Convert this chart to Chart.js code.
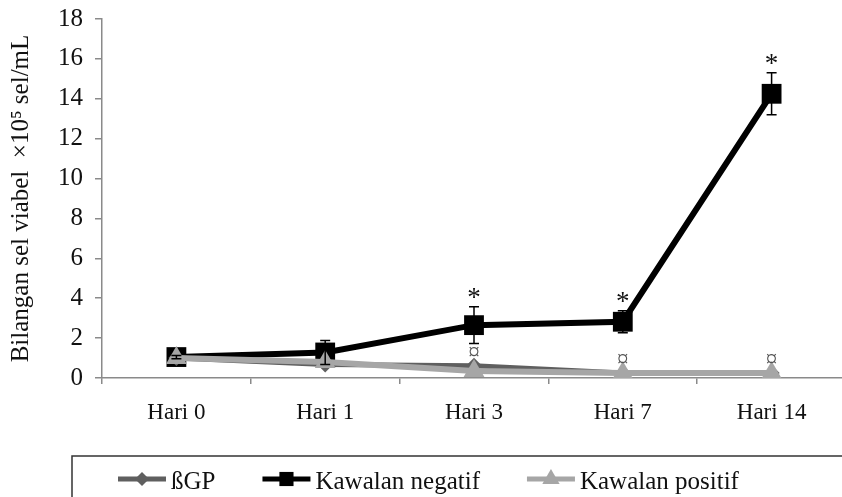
<!DOCTYPE html>
<html>
<head>
<meta charset="utf-8">
<script src="https://cdn.jsdelivr.net/npm/chart.js@4/dist/chart.umd.min.js"></script>
<style>
  html, body { margin: 0; padding: 0; background: #fff; width: 842px; height: 497px; overflow: hidden; }
  #wrap { width: 860px; height: 497px; }
</style>
</head>
<body>
<div id="wrap"><canvas id="c" width="860" height="497"></canvas></div>
<script>
// Viable cell counts (x10^5 cells/mL) over the culture period
const categories = ['Hari 0', 'Hari 1', 'Hari 3', 'Hari 7', 'Hari 14'];
const bgpValues = [1.0, 0.68, 0.62, 0.25, 0.25];
const negativeValues = [1.05, 1.28, 2.65, 2.82, 14.25];
const negativeErrors = [0.08, 0.6, 0.92, 0.55, 1.05];
const positiveValues = [1.0, 0.8, 0.35, 0.25, 0.25];
const seriesLabels = ['\u00DFGP', 'Kawalan negatif', 'Kawalan positif'];
// significance markers
const negativeMarks = ['', '', '*', '*', '*'];
const controlMarks = ['', '', '\u00A4', '\u00A4', '\u00A4'];
const yTickValues = [0, 2, 4, 6, 8, 10, 12, 14, 16, 18];
const yTitle = 'Bilangan sel viabel  \u00D710\u2075 sel/mL';

const FONT = "'Liberation Serif', 'Times New Roman', serif";

function marker(ctx, style, x, y, r, color) {
  ctx.save();
  ctx.fillStyle = color;
  ctx.beginPath();
  if (style === 'rectRot') {
    ctx.moveTo(x - r, y); ctx.lineTo(x, y - r); ctx.lineTo(x + r, y); ctx.lineTo(x, y + r);
  } else if (style === 'rect') {
    const s = r * Math.SQRT1_2;
    ctx.rect(x - s, y - s, 2 * s, 2 * s);
  } else if (style === 'triangle') {
    const e = 3 * r / Math.sqrt(3), h = e * Math.sqrt(3) / 2;
    ctx.moveTo(x - e / 2, y + h / 3); ctx.lineTo(x + e / 2, y + h / 3); ctx.lineTo(x, y - 2 * h / 3);
  }
  ctx.closePath();
  ctx.fill();
  ctx.restore();
}

const errorBars = {
  id: 'errorBars',
  afterDatasetsDraw(chart) {
    const ctx = chart.ctx, y = chart.scales.y;
    const meta = chart.getDatasetMeta(1);
    ctx.save();
    ctx.strokeStyle = '#000';
    ctx.lineWidth = 1.5;
    meta.data.forEach((pt, i) => {
      const v = negativeValues[i], e = negativeErrors[i];
      const top = y.getPixelForValue(v + e), bot = y.getPixelForValue(v - e);
      ctx.beginPath();
      ctx.moveTo(pt.x, top); ctx.lineTo(pt.x, bot);
      ctx.moveTo(pt.x - 5, top); ctx.lineTo(pt.x + 5, top);
      ctx.moveTo(pt.x - 5, bot); ctx.lineTo(pt.x + 5, bot);
      ctx.stroke();
    });
    // significance symbols
    ctx.textAlign = 'center';
    ctx.textBaseline = 'alphabetic';
    ctx.fillStyle = '#111';
    ctx.font = '27px ' + FONT;
    meta.data.forEach((pt, i) => {
      if (!negativeMarks[i]) return;
      const top = y.getPixelForValue(negativeValues[i] + negativeErrors[i]);
      ctx.fillText(negativeMarks[i], pt.x, top - 1);
    });
    ctx.fillStyle = '#555';
    ctx.font = '23px ' + FONT;
    meta.data.forEach((pt, i) => {
      if (!controlMarks[i]) return;
      const v = Math.max(bgpValues[i], positiveValues[i]);
      ctx.fillText(controlMarks[i], pt.x, y.getPixelForValue(v) - 7);
    });
    ctx.restore();
  }
};

const boxLegend = {
  id: 'boxLegend',
  afterDraw(chart) {
    const ctx = chart.ctx;
    ctx.save();
    ctx.strokeStyle = '#333';
    ctx.lineWidth = 1.5;
    ctx.strokeRect(72, 456, 900, 100);
    ctx.font = '25px ' + FONT;
    ctx.textBaseline = 'middle';
    ctx.textAlign = 'left';
    let x = 118;
    const ly = 479;
    const sizes = [7, 10, 10];
    chart.data.datasets.forEach((ds, i) => {
      ctx.strokeStyle = ds.borderColor;
      ctx.lineWidth = 5;
      ctx.beginPath();
      ctx.moveTo(x, ly); ctx.lineTo(x + 48, ly);
      ctx.stroke();
      marker(ctx, ds.pointStyle, x + 24, ly, sizes[i], ds.borderColor);
      ctx.fillStyle = '#111';
      ctx.fillText(ds.label, x + 53, ly + 3);
      x += 53 + ctx.measureText(ds.label).width + 47;
    });
    ctx.restore();
  }
};

const ctx = document.getElementById('c').getContext('2d');
new Chart(ctx, {
  type: 'line',
  data: {
    labels: categories,
    datasets: [
      {
        label: seriesLabels[0], data: bgpValues, order: 1,
        borderColor: '#5f5f5f', backgroundColor: '#5f5f5f', borderWidth: 5,
        pointStyle: 'rectRot', pointRadius: 8, pointBorderWidth: 0, tension: 0
      },
      {
        label: seriesLabels[1], data: negativeValues, order: 2,
        borderColor: '#000000', backgroundColor: '#000000', borderWidth: 6,
        pointStyle: 'rect', pointRadius: 14, pointBorderWidth: 0, tension: 0
      },
      {
        label: seriesLabels[2], data: positiveValues, order: 0,
        borderColor: '#a6a6a6', backgroundColor: '#a6a6a6', borderWidth: 6,
        pointStyle: 'triangle', pointRadius: 12, pointBorderWidth: 0, tension: 0
      }
    ]
  },
  options: {
    responsive: false,
    animation: false,
    layout: { padding: { left: 4, top: 19, right: 8, bottom: 0 } },
    plugins: { legend: { display: false }, tooltip: { enabled: false } },
    scales: {
      x: {
        offset: true,
        grid: { offset: true, drawOnChartArea: false, drawTicks: true, tickLength: 6, color: '#8a8a8a', lineWidth: 1.5 },
        border: { color: '#8a8a8a', width: 1.5 },
        ticks: { color: '#111', font: { family: FONT, size: 23 }, padding: 15, maxRotation: 0, autoSkip: false },
        afterFit(s) { s.height = 119; }
      },
      y: {
        min: 0, max: 18,
        afterBuildTicks(s) { s.ticks = yTickValues.map(v => ({ value: v })); },
        grid: { drawOnChartArea: false, drawTicks: true, tickLength: 7, color: '#8a8a8a', lineWidth: 1.5 },
        border: { color: '#8a8a8a', width: 1.5 },
        ticks: { color: '#111', font: { family: FONT, size: 25, lineHeight: 0.4 }, padding: 12 },
        title: { display: true, text: yTitle, color: '#111', font: { family: FONT, size: 25 }, padding: { top: 2, bottom: 0 } },
        afterFit(s) { s.width = 98; }
      }
    }
  },
  plugins: [errorBars, boxLegend]
});
</script>
</body>
</html>
